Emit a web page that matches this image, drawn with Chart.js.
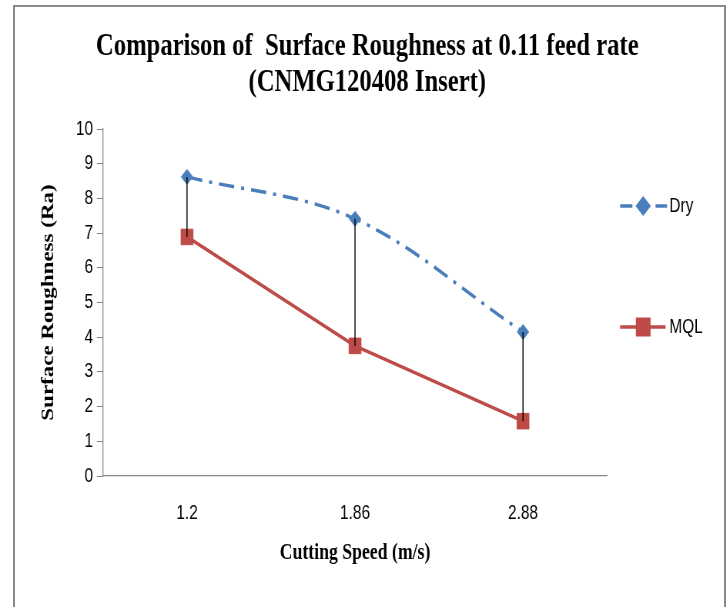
<!DOCTYPE html>
<html>
<head>
<meta charset="utf-8">
<script src="https://cdn.jsdelivr.net/npm/chart.js@4.4.1/dist/chart.umd.min.js"></script>
<style>
  html, body { margin: 0; padding: 0; background: #ffffff; }
  #wrap { position: relative; width: 727px; height: 607px; overflow: hidden; background: #fff; }
  #frame { position: absolute; left: 13px; top: 5px; width: 709px; height: 700px;
           border: 2px solid #8a8a8a; border-bottom: none; }
  #c { position: absolute; left: 0; top: 0; width: 944px; height: 607px;
       transform: scaleX(0.77); transform-origin: 0 0; }
</style>
</head>
<body>
<div id="wrap">
  <div id="frame"></div>
  <canvas id="c" width="944" height="607"></canvas>
</div>
<script>
// ---- data ----
const categories = ['1.2', '1.86', '2.88'];
const dryValues  = [8.62, 7.41, 4.15];
const mqlValues  = [6.89, 3.75, 1.58];
const seriesNames = ['Dry', 'MQL'];
const yMin = 0, yMax = 10, yStep = 1;
const titleLines = ['Comparison of  Surface Roughness at 0.11 feed rate', '(CNMG120408 Insert)'];
const xTitle = 'Cutting Speed (m/s)';
const yTitle = 'Surface Roughness (Ra)';

const BLUE = '#4a7ebb';
const RED = '#be4b48';
const AXIS = '#868686';

const hiLoLines = {
  id: 'hiLoLines',
  afterDatasetsDraw(chart) {
    const m0 = chart.getDatasetMeta(0), m1 = chart.getDatasetMeta(1);
    const ctx = chart.ctx;
    ctx.save();
    ctx.strokeStyle = '#000000';
    ctx.lineWidth = 1.4;
    for (let i = 0; i < m0.data.length; i++) {
      const a = m0.data[i], b = m1.data[i];
      ctx.beginPath();
      ctx.moveTo(a.x, a.y);
      ctx.lineTo(b.x, b.y);
      ctx.stroke();
    }
    ctx.restore();
  }
};

const sideLegend = {
  id: 'sideLegend',
  afterDraw(chart) {
    const ctx = chart.ctx;
    const ca = chart.chartArea;
    const x0 = ca.right + 17;
    const ys = [ca.top + 77, ca.top + 198];
    ctx.save();
    // Dry
    ctx.strokeStyle = BLUE; ctx.lineWidth = 3.5;
    ctx.beginPath(); ctx.moveTo(x0, ys[0]); ctx.lineTo(x0 + 16, ys[0]); ctx.stroke();
    ctx.beginPath(); ctx.moveTo(x0 + 46, ys[0]); ctx.lineTo(x0 + 61, ys[0]); ctx.stroke();
    Chart.helpers.drawPoint(ctx, {pointStyle: 'rectRot', radius: 7.5, borderWidth: 1, rotation: 0}, x0 + 30, ys[0]);
    ctx.fillStyle = BLUE; ctx.fill();
    // MQL
    ctx.strokeStyle = RED; ctx.lineWidth = 3.5;
    ctx.beginPath(); ctx.moveTo(x0, ys[1]); ctx.lineTo(x0 + 59, ys[1]); ctx.stroke();
    ctx.fillStyle = RED;
    Chart.helpers.drawPoint(ctx, {pointStyle: 'rect', radius: 11, borderWidth: 1, rotation: 0}, x0 + 30, ys[1]);
    ctx.fill();
    ctx.fillStyle = '#000000';
    ctx.font = '20px "Liberation Sans", Arial, sans-serif';
    ctx.textBaseline = 'middle';
    ctx.textAlign = 'left';
    ctx.fillText(seriesNames[0], x0 + 64, ys[0]);
    ctx.fillText(seriesNames[1], x0 + 64, ys[1]);
    ctx.restore();
  }
};

new Chart(document.getElementById('c'), {
  type: 'line',
  data: {
    labels: categories,
    datasets: [
      {
        label: seriesNames[0],
        data: dryValues,
        borderColor: BLUE,
        backgroundColor: BLUE,
        borderWidth: 3.5,
        borderDash: [20, 9, 4, 9],
        tension: 0.35,
        pointStyle: 'rectRot',
        pointRadius: 7.5,
        pointBorderWidth: 1,
        pointBackgroundColor: BLUE,
        pointBorderColor: BLUE,
        fill: false
      },
      {
        label: seriesNames[1],
        data: mqlValues,
        borderColor: RED,
        backgroundColor: RED,
        borderWidth: 3.5,
        tension: 0,
        pointStyle: 'rect',
        pointRadius: 11,
        pointBorderWidth: 1,
        pointBackgroundColor: RED,
        pointBorderColor: RED,
        fill: false
      }
    ]
  },
  options: {
    responsive: false,
    animation: false,
    devicePixelRatio: 1,
    layout: { padding: { left: 10, right: 0, top: 5, bottom: 0 } },
    plugins: {
      legend: { display: false },
      tooltip: { enabled: false },
      title: {
        display: true,
        text: titleLines,
        color: '#000000',
        font: { family: '"Liberation Serif", "Times New Roman", serif', size: 32, weight: 'bold', lineHeight: 1.15 },
        padding: { top: 23, bottom: 27.4 }
      }
    },
    scales: {
      x: {
        type: 'category',
        offset: true,
        grid: { display: false, drawTicks: false },
        border: { display: true, color: AXIS, width: 1.3 },
        ticks: { color: '#000000', padding: 25,
                 font: { family: '"Liberation Sans", Arial, sans-serif', size: 20 } },
        title: { display: true, text: xTitle, color: '#000000',
                 font: { family: '"Liberation Serif", "Times New Roman", serif', size: 23, weight: 'bold' },
                 padding: { top: 0, bottom: 40 } },
        afterFit(s) { s.height = 131; }
      },
      y: {
        min: yMin, max: yMax,
        grid: { display: true, drawOnChartArea: false, drawTicks: true, tickLength: 8, color: AXIS, lineWidth: 1 },
        border: { display: true, color: AXIS, width: 1.3 },
        ticks: { stepSize: yStep, color: '#000000', padding: 5,
                 font: { family: '"Liberation Sans", Arial, sans-serif', size: 20 } },
        title: { display: true, text: yTitle, color: '#000000',
                 font: { family: '"Liberation Serif", "Times New Roman", serif', size: 23, weight: 'bold' },
                 padding: { top: 39, bottom: 0 } },
        afterFit(s) { s.width = 123.8; }
      },
      yR: {
        position: 'right',
        display: true,
        grid: { display: false, drawTicks: false },
        border: { display: false },
        ticks: { display: false },
        afterFit(s) { s.width = 155.7; }
      }
    }
  },
  plugins: [hiLoLines, sideLegend]
});
</script>
</body>
</html>
